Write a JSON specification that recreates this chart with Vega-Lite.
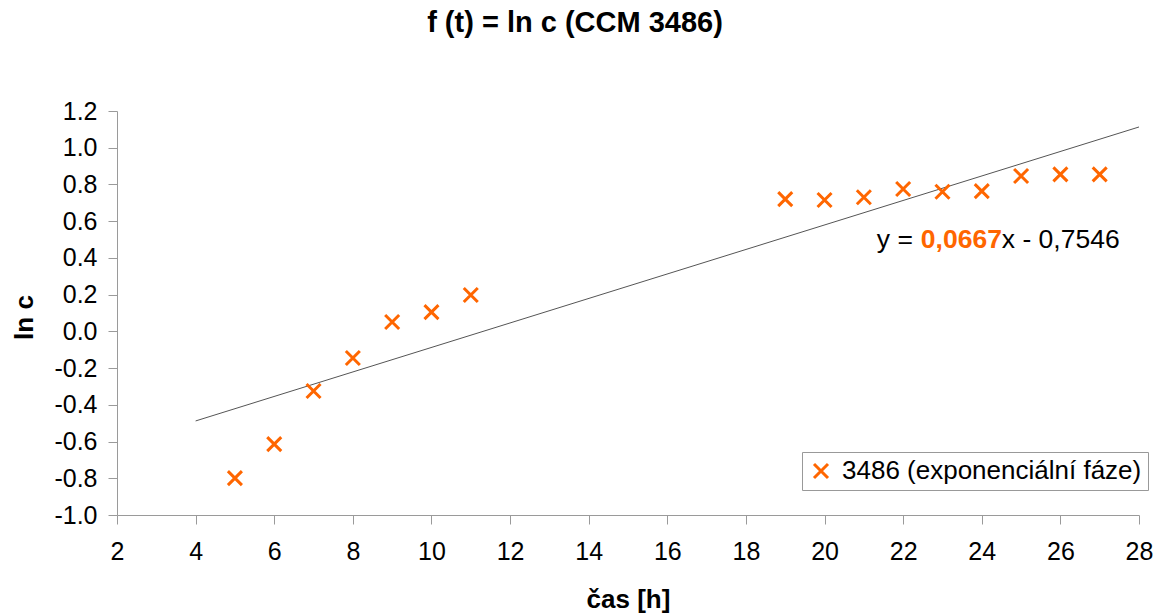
{
  "$schema": "https://vega.github.io/schema/vega-lite/v6.json",
  "width": 1022,
  "height": 404,
  "autosize": {"type": "none"},
  "padding": {"left": 117, "top": 111, "right": 21, "bottom": 101},
  "background": "white",
  "title": {
    "text": "f (t) = ln c (CCM 3486)",
    "font": "Liberation Sans",
    "fontSize": 29,
    "fontWeight": "bold",
    "color": "black",
    "anchor": "middle",
    "frame": "group",
    "dx": -53,
    "offset": 61
  },
  "config": {
    "view": {"stroke": null},
    "font": "Liberation Sans",
    "axis": {
      "grid": false,
      "domainColor": "#9a9a9a",
      "tickColor": "#9a9a9a",
      "tickSize": 9,
      "labelOverlap": false,
      "labelFont": "Liberation Sans",
      "labelFontSize": 25,
      "labelColor": "black",
      "titleFont": "Liberation Sans",
      "titleFontSize": 26,
      "titleFontWeight": "bold",
      "titleColor": "black"
    }
  },
  "layer": [
    {
      "data": {"values": [{"t": 4, "v": -0.4878}, {"t": 28, "v": 1.113}]},
      "mark": {"type": "line", "color": "#555555", "strokeWidth": 1},
      "encoding": {
        "x": {
          "field": "t", "type": "quantitative",
          "scale": {"domain": [2, 28], "nice": false, "zero": false},
          "axis": {
            "title": "čas [h]",
            "values": [2, 4, 6, 8, 10, 12, 14, 16, 18, 20, 22, 24, 26, 28],
            "tickCount": 30,
            "labelOverlap": false,
            "labelFlush": false,
            "labelPadding": 15,
            "titlePadding": 22
          }
        },
        "y": {
          "field": "v", "type": "quantitative",
          "scale": {"domain": [-1, 1.2], "nice": false, "zero": false},
          "axis": {
            "title": "ln c",
            "values": [-1, -0.8, -0.6, -0.4, -0.2, 0, 0.2, 0.4, 0.6, 0.8, 1, 1.2],
            "tickCount": 20,
            "labelExpr": "replace(format(datum.value, '.1f'), '\u2212', '-')",
            "labelOverlap": false,
            "labelFlush": false,
            "labelPadding": 11,
            "titleX": -85,
            "titleY": 206,
            "titleAngle": -90,
            "titleBaseline": "alphabetic"
          }
        }
      }
    },
    {
      "data": {
        "values": [
          {"t": 5, "v": -0.799},
          {"t": 6, "v": -0.614},
          {"t": 7, "v": -0.325},
          {"t": 8, "v": -0.145},
          {"t": 9, "v": 0.051},
          {"t": 10, "v": 0.105},
          {"t": 11, "v": 0.198},
          {"t": 19, "v": 0.72},
          {"t": 20, "v": 0.715},
          {"t": 21, "v": 0.73},
          {"t": 22, "v": 0.775},
          {"t": 23, "v": 0.76},
          {"t": 24, "v": 0.764},
          {"t": 25, "v": 0.846},
          {"t": 26, "v": 0.855},
          {"t": 27, "v": 0.855}
        ]
      },
      "mark": {
        "type": "point",
        "shape": "M-1,-1L1,1M1,-1L-1,1",
        "filled": false,
        "size": 196,
        "strokeWidth": 3,
        "opacity": 1
      },
      "encoding": {
        "x": {"field": "t", "type": "quantitative"},
        "y": {"field": "v", "type": "quantitative"},
        "color": {
          "datum": "3486 (exponenciální fáze)",
          "scale": {"range": ["#FF6600"]},
          "legend": {
            "title": null,
            "orient": "none",
            "legendX": 685,
            "legendY": 341,
            "strokeColor": "#999999",
            "fillColor": "white",
            "padding": 6,
            "labelFont": "Liberation Sans",
            "labelFontSize": 26,
            "labelColor": "black",
            "labelLimit": 0,
            "symbolType": "M-1,-1L1,1M1,-1L-1,1",
            "symbolSize": 196,
            "symbolStrokeWidth": 3,
            "symbolFillColor": "transparent",
            "labelOffset": 8
          }
        }
      }
    },
    {
      "data": {"values": [{"label": "y ="}]},
      "mark": {"type": "text", "align": "left", "baseline": "alphabetic", "fontSize": 26.5, "font": "Liberation Sans", "color": "black"},
      "encoding": {
        "x": {"datum": 21.33, "type": "quantitative"},
        "y": {"datum": 0.454, "type": "quantitative"},
        "text": {"field": "label"}
      }
    },
    {
      "data": {"values": [{"label": "0,0667"}]},
      "mark": {"type": "text", "align": "left", "baseline": "alphabetic", "fontSize": 26.5, "fontWeight": "bold", "font": "Liberation Sans", "color": "#FF6600"},
      "encoding": {
        "x": {"datum": 22.45, "type": "quantitative"},
        "y": {"datum": 0.454, "type": "quantitative"},
        "text": {"field": "label"}
      }
    },
    {
      "data": {"values": [{"label": "x - 0,7546"}]},
      "mark": {"type": "text", "align": "left", "baseline": "alphabetic", "fontSize": 26.5, "font": "Liberation Sans", "color": "black"},
      "encoding": {
        "x": {"datum": 24.51, "type": "quantitative"},
        "y": {"datum": 0.454, "type": "quantitative"},
        "text": {"field": "label"}
      }
    }
  ]
}
